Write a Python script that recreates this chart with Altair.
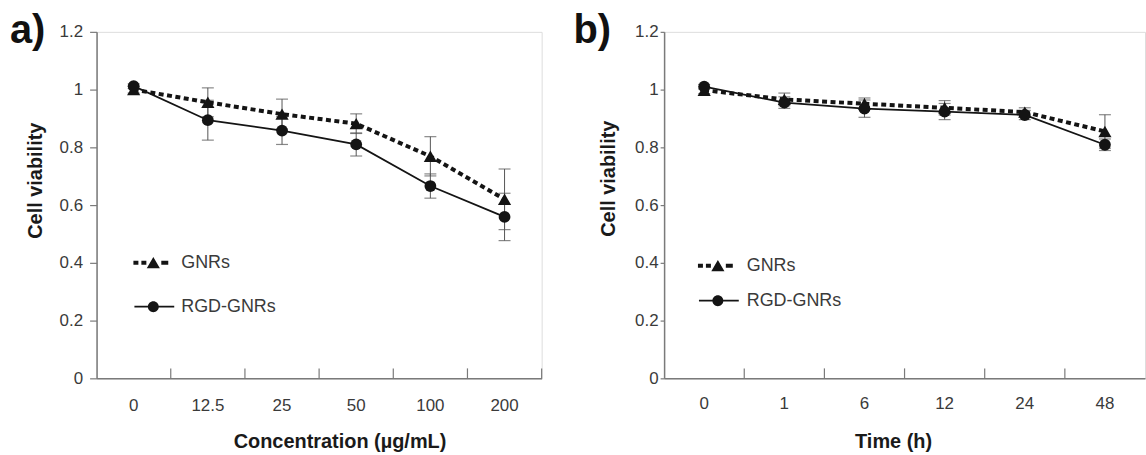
import altair as alt
import pandas as pd

# ---------------- data ----------------
conc_labels = ["0", "12.5", "25", "50", "100", "200"]
time_labels = ["0", "1", "6", "12", "24", "48"]
series_names = ["GNRs", "RGD-GNRs"]
y_ticks = [0, 0.2, 0.4, 0.6, 0.8, 1.0, 1.2]

a_gnr = [1.000, 0.956, 0.915, 0.882, 0.769, 0.620]
a_gnr_err = [0.012, 0.050, 0.052, 0.034, 0.068, 0.105]
a_rgd = [1.012, 0.894, 0.858, 0.810, 0.666, 0.559]
a_rgd_err = [0.008, 0.069, 0.048, 0.040, 0.042, 0.082]

b_gnr = [0.998, 0.966, 0.951, 0.937, 0.922, 0.855]
b_gnr_err = [0.012, 0.022, 0.020, 0.025, 0.015, 0.058]
b_rgd = [1.010, 0.955, 0.934, 0.924, 0.912, 0.809]
b_rgd_err = [0.008, 0.020, 0.030, 0.028, 0.016, 0.020]

# ---------------- style ----------------
FONT = "Liberation Sans"
AX = "#7a7a7a"
LAB = "#3a3a3a"
MARK = "#141414"
ERR = "#555555"
H = 348

# legend symbols: line + marker drawn as one custom path
PATH_GNR = ("M-2,-0.2H-1.5V0.2H-2Z M-1.2,-0.2H-0.7V0.2H-1.2Z "
            "M0,-0.58L0.66,0.55L-0.66,0.55Z M0.8,-0.2H1.5V0.2H0.8Z")
PATH_RGD = ("M-1.9,-0.09H2.1V0.09H-1.9Z "
            "M-0.55,0A0.55,0.55 0 1,1 0.55,0A0.55,0.55 0 1,1 -0.55,0Z")


def frame(cats, gnr, gnr_err, rgd, rgd_err):
    rows = []
    for c, v, e in zip(cats, gnr, gnr_err):
        rows.append({"cat": c, "series": "GNRs", "v": v, "err": e})
    for c, v, e in zip(cats, rgd, rgd_err):
        rows.append({"cat": c, "series": "RGD-GNRs", "v": v, "err": e})
    return pd.DataFrame(rows)


def panel(df, cats, letter, xtitle, width, p):
    xscale = alt.Scale(type="band", domain=cats, paddingInner=0, paddingOuter=0)
    yscale = alt.Scale(domain=[0, 1.2], nice=False, zero=False)
    xaxis = alt.Axis(
        title=xtitle, labelAngle=0, ticks=False, tickSize=0, grid=False,
        domainColor=AX, domainWidth=1.5,
        labelFont=FONT, labelFontSize=17, labelColor=LAB, labelPadding=p["xlp"],
        titleFont=FONT, titleFontSize=20, titleFontWeight="bold", titleColor="#1a1a1a",
        titleX=p["xtx"], titleY=p["xty"], titleBaseline="alphabetic", titleAlign="center",
    )
    yaxis = alt.Axis(
        title="Cell viability", values=y_ticks, format="~g", grid=False,
        domainColor=AX, domainWidth=1.5, tickColor=AX, tickWidth=1.2,
        tickSize=p["yts"], labelPadding=p["ylp"],
        labelFont=FONT, labelFontSize=17, labelColor=LAB,
        titleFont=FONT, titleFontSize=20, titleFontWeight="bold", titleColor="#1a1a1a",
        titleX=p["ytx"], titleY=p["yty"], titleAngle=270,
        titleBaseline="alphabetic", titleAlign="center",
    )
    x = alt.X("cat:N", scale=xscale, axis=xaxis, sort=cats)
    y = alt.Y("v:Q", scale=yscale, axis=yaxis)

    base = alt.Chart(df)
    eb = base.transform_calculate(lo="datum.v - datum.err", hi="datum.v + datum.err")
    err_rule = eb.mark_rule(color=ERR, strokeWidth=1).encode(
        x=x, y=alt.Y("lo:Q", scale=yscale, axis=yaxis), y2="hi:Q")
    cap_lo = eb.mark_tick(orient="horizontal", size=12, thickness=1.2, color=ERR).encode(
        x=x, y=alt.Y("lo:Q", scale=yscale, axis=yaxis))
    cap_hi = eb.mark_tick(orient="horizontal", size=12, thickness=1.2, color=ERR).encode(
        x=x, y=alt.Y("hi:Q", scale=yscale, axis=yaxis))

    gnr = base.transform_filter(alt.datum.series == "GNRs")
    rgd = base.transform_filter(alt.datum.series == "RGD-GNRs")
    line_g = gnr.mark_line(color=MARK, strokeWidth=4, strokeDash=[5, 3.5],
                           strokeCap="butt").encode(x=x, y=y)
    line_r = rgd.mark_line(color=MARK, strokeWidth=1.8).encode(x=x, y=y)
    pt_g = gnr.mark_point(shape="triangle-up", filled=True, size=175,
                          color=MARK, opacity=1).encode(x=x, y=y)
    pt_r = rgd.mark_point(shape="circle", filled=True, size=140,
                          color=MARK, opacity=1).encode(x=x, y=y)

    # inward x-axis ticks at the category boundaries
    tick_df = pd.DataFrame({"cat": cats[1:]})
    ticks = alt.Chart(tick_df).mark_rule(color=AX, strokeWidth=1.2).encode(
        x=alt.X("cat:N", scale=xscale, axis=xaxis, sort=cats, bandPosition=0),
        y=alt.value(H - 10), y2=alt.value(H))
    layers = [err_rule, cap_lo, cap_hi, line_g, line_r, pt_g, pt_r, ticks]
    if p["end_tick"]:
        end_df = pd.DataFrame({"cat": cats[-1:]})
        end_tick = alt.Chart(end_df).mark_rule(color=AX, strokeWidth=1.2).encode(
            x=alt.X("cat:N", scale=xscale, axis=xaxis, sort=cats, bandPosition=1),
            y=alt.value(H - 10), y2=alt.value(H))
        layers.append(end_tick)

    legend_layer = base.transform_filter("false").mark_point(
        filled=True, color=MARK, opacity=1).encode(
        shape=alt.Shape(
            "series:N",
            scale=alt.Scale(domain=series_names, range=[PATH_GNR, PATH_RGD]),
            legend=alt.Legend(
                orient="none", legendX=p["lx"], legendY=p["ly"], title=None,
                symbolSize=400, symbolFillColor=MARK, symbolStrokeColor=MARK,
                symbolStrokeWidth=0, symbolOpacity=1,
                labelFont=FONT, labelFontSize=18, labelColor=LAB,
                labelOffset=p["lo"], rowPadding=p["rp"], padding=0,
            ),
        ))
    layers.append(legend_layer)

    letter_layer = alt.Chart(pd.DataFrame({"t": [letter]})).mark_text(
        align="left", baseline="alphabetic", font=FONT, fontSize=40,
        fontWeight="bold", color="#111111").encode(
        text="t:N", x=alt.value(p["tx"]), y=alt.value(11))
    layers.append(letter_layer)

    return alt.layer(*layers).properties(width=width, height=H)


df_a = frame(conc_labels, a_gnr, a_gnr_err, a_rgd, a_rgd_err)
df_b = frame(time_labels, b_gnr, b_gnr_err, b_rgd, b_rgd_err)

pa = dict(xlp=19, xtx=244, xty=69, yts=7, ylp=7, ytx=-55, yty=149,
          lx=47, ly=222, lo=18, rp=25, tx=-87, end_tick=True)
pb = dict(xlp=17, xtx=230, xty=69, yts=4, ylp=2, ytx=-50, yty=147,
          lx=44, ly=225, lo=19, rp=16, tx=-91, end_tick=False)

chart_a = panel(df_a, conc_labels, "a)", "Concentration (µg/mL)", 447, pa)
chart_b = panel(df_b, time_labels, "b)", "Time (h)", 483, pb)

chart = (
    alt.hconcat(chart_a, chart_b, spacing=29)
    .resolve_scale(x="independent", y="independent", shape="independent")
    .resolve_legend(shape="independent")
    .resolve_axis(x="independent", y="independent")
    .properties(padding={"left": 9, "top": 9, "right": 0, "bottom": 0})
    .configure_view(stroke=None)
    .configure(background="white")
)

chart.save("out.html", embed_options={"renderer": "svg", "actions": False})
